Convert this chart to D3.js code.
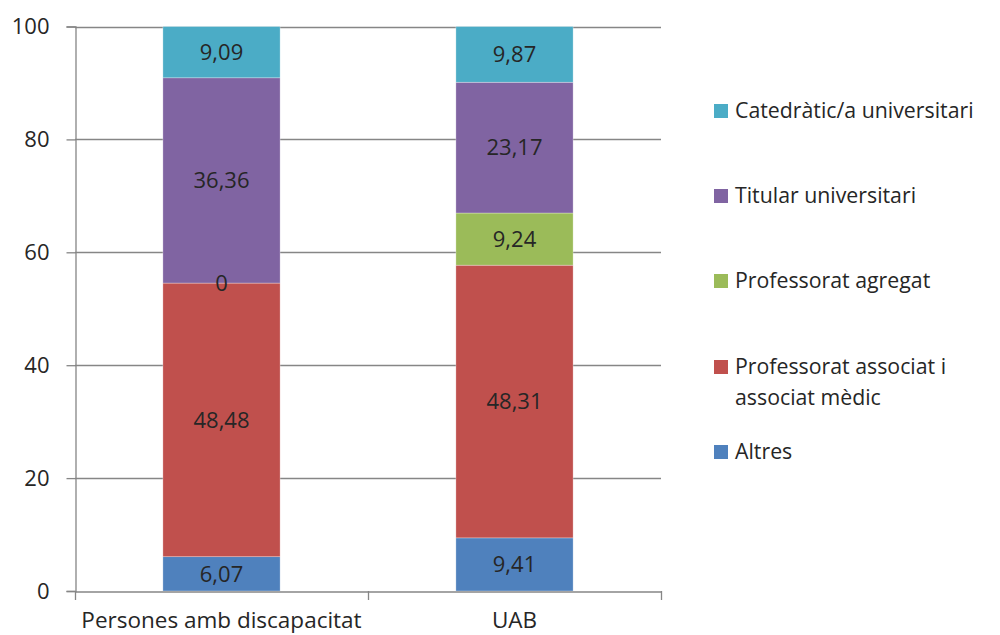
<!DOCTYPE html>
<html><head><meta charset="utf-8">
<script src="https://cdn.jsdelivr.net/npm/d3@7"></script>
<style>body{margin:0;background:#fff}svg{display:block}text{font-family:"Open Sans",sans-serif;fill:#262626}</style>
</head><body><svg id="c" width="1000" height="635"></svg>
<script>
const categories = ["Persones amb discapacitat", "UAB"];
const seriesNames = ["Altres", "Professorat associat i associat mèdic", "Professorat agregat", "Titular universitari", "Catedràtic/a universitari"];
const altres = [6.07, 9.41];
const associat = [48.48, 48.31];
const agregat = [0, 9.24];
const titular = [36.36, 23.17];
const catedratic = [9.09, 9.87];
const colors = ["#4F81BD", "#C0504D", "#9BBB59", "#8064A2", "#4BACC6"];
const yTicks = [0, 20, 40, 60, 80, 100];
const legendOrder = [4, 3, 2, 1, 0];
const legendLines = [["Catedràtic/a universitari"], ["Titular universitari"], ["Professorat agregat"], ["Professorat associat i", "associat mèdic"], ["Altres"]];

const series = [altres, associat, agregat, titular, catedratic];
const svg = d3.select("#c");
const L = 75, R = 661, T = 26.5, B = 591;
const x = d3.scaleBand().domain(categories).range([L, R]).padding(0);
const y = d3.scaleLinear().domain([0, 100]).range([B, T]);
const grey = "#868686";

svg.append("g").selectAll("line").data(yTicks.filter(d => d > 0)).join("line")
  .attr("x1", L).attr("x2", R).attr("y1", d => Math.round(y(d)) + 0.5).attr("y2", d => Math.round(y(d)) + 0.5)
  .attr("stroke", grey).attr("stroke-width", 1.3);

const rows = categories.map((c, i) => { const o = {cat: c}; seriesNames.forEach((s, k) => o[s] = series[k][i]); return o; });
const stack = d3.stack().keys(seriesNames)(rows);
const bw = x.bandwidth() * 0.4;
const g = svg.append("g");
stack.forEach((layer, k) => {
  g.selectAll(null).data(layer).join("rect")
    .attr("x", d => x(d.data.cat) + x.bandwidth() / 2 - bw / 2)
    .attr("width", bw)
    .attr("y", d => y(d[1]))
    .attr("height", d => y(d[0]) - y(d[1]))
    .attr("fill", colors[k])
    .attr("stroke", "#fff").attr("stroke-opacity", 0.5).attr("stroke-width", 0.6);
});
stack.forEach((layer, k) => {
  g.selectAll(null).data(layer).join("text")
    .attr("x", d => x(d.data.cat) + x.bandwidth() / 2)
    .attr("y", d => y((d[0] + d[1]) / 2))
    .attr("dy", "0.35em").attr("text-anchor", "middle")
    .attr("font-size", 22)
    .text(d => String(d.data[seriesNames[k]]).replace(".", ","));
});

const ya = svg.append("g").attr("transform", `translate(${L + 0.5},0)`)
  .call(d3.axisLeft(y).tickValues(yTicks).tickSize(9).tickPadding(17));
ya.select(".domain").attr("stroke", grey).attr("stroke-width", 1.3);
ya.selectAll(".tick line").attr("stroke", grey).attr("stroke-width", 1.3);
ya.selectAll(".tick text").attr("font-size", 22).attr("font-family", "Open Sans").attr("fill", "#262626");

const xa = svg.append("g").attr("transform", `translate(0,${B + 0.5})`)
  .call(d3.axisBottom(x).tickSize(0).tickPadding(21));
xa.select(".domain").attr("stroke", grey).attr("stroke-width", 1.3);
xa.selectAll(".tick text").attr("font-size", 22.5).attr("font-family", "Open Sans").attr("fill", "#262626");
svg.append("g").selectAll("line").data([L, L + x.step(), R]).join("line")
  .attr("x1", d => d + 0.5).attr("x2", d => d + 0.5).attr("y1", B).attr("y2", B + 9)
  .attr("stroke", grey).attr("stroke-width", 1.3);

const legY = [111, 196, 281, 367, 452];
const lg = svg.append("g");
legendOrder.forEach((k, i) => {
  lg.append("rect").attr("x", 714).attr("y", legY[i] - 7).attr("width", 14).attr("height", 14).attr("fill", colors[k]);
  legendLines[i].forEach((t, j) => {
    lg.append("text").attr("x", 735).attr("y", legY[i] + j * 31).attr("dy", "0.35em").attr("font-size", 21.3).text(t);
  });
});
</script></body></html>
